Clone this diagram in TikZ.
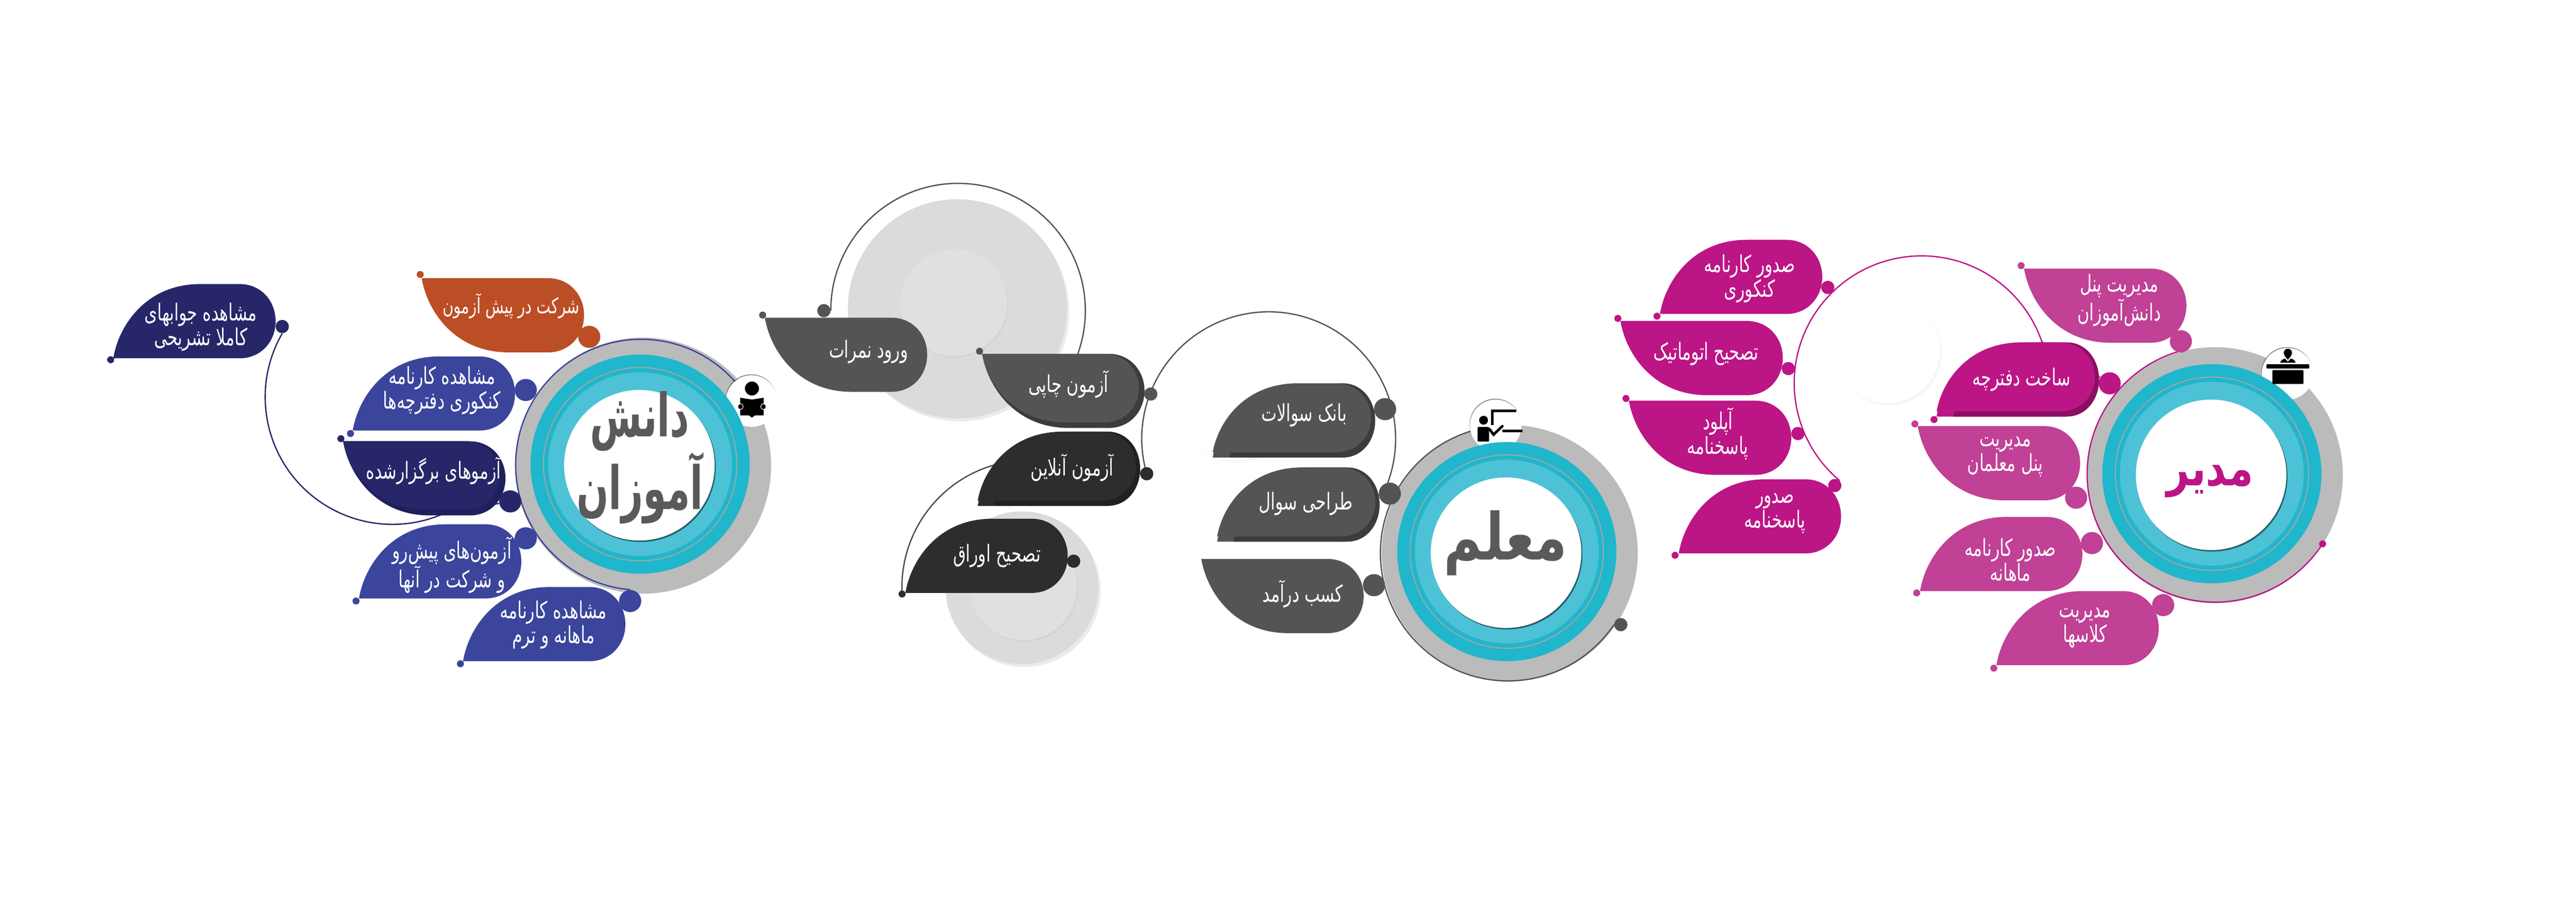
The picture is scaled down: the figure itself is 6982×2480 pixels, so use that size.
\documentclass[tikz,border=0pt]{standalone}
\usepackage{fontspec}
\usepackage{xcolor}
\usetikzlibrary{shadows}
\TeXXeTstate=1
\newfontfamily\farsi[Script=Arabic,FakeStretch=0.7]{DejaVu Sans}
\newfontfamily\farsitall[Script=Arabic,FakeStretch=0.63]{DejaVu Sans}
\newfontfamily\farsiword[Script=Arabic,FakeStretch=0.8]{DejaVu Sans}
\newcommand{\fa}[1]{\beginR #1\endR}

\definecolor{studentblue}{HTML}{3A459B}
\definecolor{studentnavy}{HTML}{262668}
\definecolor{navyback}{HTML}{1F1F5C}
\definecolor{studentorange}{HTML}{BC4E26}
\definecolor{teachergrey}{HTML}{545454}
\definecolor{greyback}{HTML}{3C3C3C}
\definecolor{teacherdark}{HTML}{2D2D2D}
\definecolor{darkback}{HTML}{212121}
\definecolor{adminmagenta}{HTML}{BC1586}
\definecolor{magentaback}{HTML}{8A0F62}
\definecolor{adminpink}{HTML}{C04196}
\definecolor{ringgrey}{HTML}{BBBBBB}
\definecolor{ringteal}{HTML}{20B6CC}
\definecolor{ringlight}{HTML}{4DC2D6}
\definecolor{ringline}{HTML}{A5A5A5}
\definecolor{hubword}{HTML}{5A5A5A}

\pgfdeclarelayer{back}
\pgfdeclarelayer{links}
\pgfdeclarelayer{hubs}
\pgfsetlayers{back,links,hubs,main}

\tikzset{
    petal/.pic={\fill[pic actions] (0,0) -- (343,0)
        .. controls (400,0) and (440,45) .. (440,100)
        .. controls (440,156) and (400,201) .. (343,201)
        -- (235,201) .. controls (90,201) and (15,90) .. cycle;},
    flipup/.style={yscale=-1},
    petaltext/.style={text=white, inner sep=0pt, align=center,
        font=\farsi\fontsize{18}{17.4}\selectfont},
    hubtext/.style={text=hubword, inner sep=0pt, align=center,
        font=\farsitall\bfseries\fontsize{46}{36.4}\selectfont},
    bigdot/.style={circle, inner sep=0pt, minimum size=6mm},
    middot/.style={circle, inner sep=0pt, minimum size=3.6mm},
    tinydot/.style={circle, inner sep=0pt, minimum size=1.9mm},
    decordisc/.style={circle, inner sep=0pt, fill=gray!28,
        drop shadow={shadow xshift=.6mm, shadow yshift=-.8mm, opacity=.08, fill=black}},
    decorcore/.style={circle, inner sep=0pt, fill=gray!24, minimum size=29mm,
        drop shadow={shadow xshift=.3mm, shadow yshift=-.4mm, opacity=.03, fill=black}},
    faintdisc/.style={circle, inner sep=0pt, fill=white, minimum size=28.6mm,
        drop shadow={shadow xshift=.5mm, shadow yshift=-.6mm, opacity=.035, fill=black}},
    iconbadge/.style={circle, fill=white, inner sep=0pt, minimum size=14mm,
        drop shadow={shadow xshift=-.1mm, shadow yshift=.25mm, opacity=.45, fill=black}},
    link/.style={line width=.35mm}
}

% one hub: grey ring, badge, teal rings, white middle
\newcommand{\hubrings}[5]{
    \begin{pgfonlayer}{back}
    \node[circle, fill=ringgrey, inner sep=0pt, minimum size=69.4mm] (#1Grey) at (#2+8,#3+4) {};
    \end{pgfonlayer}
    \begin{pgfonlayer}{hubs}
    \node[iconbadge] (#1Icon) at (#4,#5) {};
    \node[circle, fill=ringteal, inner sep=0pt, minimum size=59.4mm] (#1Teal) at (#2,#3) {};
    \node[circle, draw=ringline, line width=.3mm, inner sep=0pt, minimum size=52.4mm] (#1Line) at (#2,#3) {};
    \node[circle, fill=ringlight, inner sep=0pt, minimum size=49.8mm] (#1Light) at (#2,#3) {};
    \node[circle, fill=white, inner sep=0pt, minimum size=40.8mm,
        drop shadow={shadow xshift=.3mm, shadow yshift=-.4mm, opacity=.5, fill=black}] (#1White) at (#2-2,#3+3) {};
    \end{pgfonlayer}
}
% petal with a darker edge, corner at the bottom left
\newcommand{\raisedpetal}[4]{
    \pic[fill=#3, flipup] at (#1,#2) {petal};
    \pic[fill=#4, yscale=-1, xscale=.898] at (#1+45,#2) {petal};
    \pic[fill=#3, yscale=-.93, xscale=.975] at (#1,#2-14) {petal};
}
% petal with a darker edge, corner at the top left
\newcommand{\edgedpetal}[4]{
    \pic[fill=#4] at (#1,#2) {petal};
    \pic[fill=#3, xscale=.965, yscale=.925] at (#1,#2) {petal};
}

\begin{document}
\begin{tikzpicture}[x=.1mm, y=-.1mm]
\useasboundingbox (0,0) rectangle (6982,2480);

\begin{pgfonlayer}{back}
\fill[white] (0,0) rectangle (6982,2480);
% grey discs behind the teacher group
\node[decordisc, minimum size=59.4mm] (discTop) at (2595,837) {};
\node[decorcore] (discTopIn) at (2585,820) {};
\node[decordisc, minimum size=41.4mm] (discLow) at (2770,1593) {};
\node[decorcore] (discLowIn) at (2774,1590) {};
% white discs, only their shadow shows
\node[faintdisc] (discBank) at (3350,1105) {};
\node[faintdisc] (discAdmin) at (5115,950) {};
\end{pgfonlayer}

% hubs
\hubrings{student}{1735}{1258}{2037}{1087}
\hubrings{teacher}{4084}{1495}{4054}{1153}
\hubrings{admin}{5995}{1284}{6200}{1013}

\node[hubtext] (studentWord) at (1734,1240) {\fa{دانش}\\\fa{آموزان}};
\node[hubtext, font=\farsiword\bfseries\fontsize{50}{40}\selectfont] (teacherWord) at (4081,1472) {\fa{معلم}};
\node[hubtext, text=adminmagenta, font=\farsiword\bfseries\fontsize{38}{40}\selectfont] (adminWord) at (5990,1305) {\fa{مدیر}};

% student petals
\pic[fill=studentorange] at (1143,754) {petal};
\pic[fill=studentnavy, flipup] at (307,971) {petal};
\pic[fill=studentblue, flipup] at (956,1167) {petal};
\edgedpetal{930}{1196}{studentnavy}{navyback}
\pic[fill=studentblue, flipup] at (973,1622) {petal};
\pic[fill=studentblue, flipup] at (1255,1792) {petal};

\node[bigdot, fill=studentorange] (pishDot) at (1597,913) {};
\node[tinydot, fill=studentorange] (pishTip) at (1139,744) {};
\node[middot, fill=studentnavy] (javabDot) at (765,885) {};
\node[tinydot, fill=studentnavy] (javabTip) at (300,975) {};
\node[bigdot, fill=studentblue] (konkurDot) at (1425,1057) {};
\node[tinydot, fill=studentblue] (konkurTip) at (950,1175) {};
\node[bigdot, fill=studentnavy] (bargozarDot) at (1383,1359) {};
\node[tinydot, fill=studentnavy] (bargozarTip) at (924,1189) {};
\node[bigdot, fill=studentblue] (azmoonDot) at (1425,1459) {};
\node[tinydot, fill=studentblue] (azmoonTip) at (965,1629) {};
\node[bigdot, fill=studentblue] (mahaneDot) at (1708,1629) {};
\node[tinydot, fill=studentblue] (mahaneTip) at (1248,1799) {};

\node[petaltext, font=\farsi\fontsize{16.5}{17.4}\selectfont] (pishText) at (1385,829) {\fa{شرکت در پیش آزمون}};
\node[petaltext] (javabText) at (544,886) {\fa{مشاهده جوابهای}\\\fa{کاملا تشریحی}};
\node[petaltext] (konkurText) at (1198,1058) {\fa{مشاهده کارنامه}\\\fa{کنکوری دفترچه‌ها}};
\node[petaltext] (bargozarText) at (1175,1276) {\fa{آزموهای برگزارشده}};
\node[petaltext] (azmoonText) at (1225,1531) {\fa{آزمون‌های پیش‌رو}\\\fa{و شرکت در آنها}};
\node[petaltext] (mahaneText) at (1500,1694) {\fa{مشاهده کارنامه}\\\fa{ماهانه  و ترم}};

% teacher petals
\pic[fill=teachergrey] at (2073,861) {petal};
\edgedpetal{2662}{959}{teachergrey}{greyback}
\raisedpetal{2650}{1371}{teacherdark}{darkback}
\pic[fill=teacherdark, flipup] at (2454,1607) {petal};
\raisedpetal{3287}{1240}{teachergrey}{greyback}
\raisedpetal{3299}{1468}{teachergrey}{greyback}
\pic[fill=teachergrey] at (3256,1515) {petal};

\node[middot, fill=teachergrey] (nomratDot) at (2233,842) {};
\node[tinydot, fill=teachergrey] (nomratTip) at (2067,854) {};
\node[middot, fill=teachergrey] (chapiDot) at (3119,1068) {};
\node[tinydot, fill=teachergrey] (chapiTip) at (2655,952) {};
\node[middot, fill=teacherdark] (onlineDot) at (3108,1284) {};
\node[middot, fill=teacherdark] (oraqDot) at (2910,1521) {};
\node[tinydot, fill=teacherdark] (oraqTip) at (2445,1610) {};
\node[bigdot, fill=teachergrey] (bankDot) at (3754,1109) {};
\node[bigdot, fill=teachergrey] (tarahiDot) at (3767,1338) {};
\node[bigdot, fill=teachergrey] (kasbDot) at (3724,1586) {};
\node[middot, fill=teachergrey] (teacherDot) at (4393,1693) {};

\node[petaltext] (nomratText) at (2354,954) {\fa{ورود نمرات}};
\node[petaltext] (chapiText) at (2896,1042) {\fa{آزمون چاپی}};
\node[petaltext] (onlineText) at (2906,1268) {\fa{آزمون آنلاین}};
\node[petaltext] (oraqText) at (2702,1506) {\fa{تصحیح اوراق}};
\node[petaltext] (bankText) at (3535,1125) {\fa{بانک سوالات}};
\node[petaltext] (tarahiText) at (3539,1365) {\fa{طراحی سوال}};
\node[petaltext] (kasbText) at (3531,1610) {\fa{کسب درآمد}};

% admin petals
\pic[fill=adminpink] at (5486,728) {petal};
\raisedpetal{5249}{1129}{adminmagenta}{magentaback}
\pic[fill=adminpink] at (5198,1155) {petal};
\pic[fill=adminpink, flipup] at (5204,1602) {petal};
\pic[fill=adminpink, flipup] at (5411,1803) {petal};
\pic[fill=adminmagenta, flipup] at (4499,851) {petal};
\pic[fill=adminmagenta] at (4392,870) {petal};
\pic[fill=adminmagenta] at (4415,1086) {petal};
\pic[fill=adminmagenta, flipup] at (4550,1500) {petal};

\node[bigdot, fill=adminpink] (panelDot) at (5911,925) {};
\node[tinydot, fill=adminpink] (panelTip) at (5478,720) {};
\node[bigdot, fill=adminmagenta] (daftarDot) at (5718,1039) {};
\node[tinydot, fill=adminmagenta] (daftarTip) at (5242,1137) {};
\node[bigdot, fill=adminpink] (moalemDot) at (5627,1349) {};
\node[tinydot, fill=adminpink] (moalemTip) at (5190,1149) {};
\node[bigdot, fill=adminpink] (sodurDot) at (5670,1472) {};
\node[tinydot, fill=adminpink] (sodurTip) at (5195,1607) {};
\node[bigdot, fill=adminpink] (kelasDot) at (5863,1640) {};
\node[tinydot, fill=adminpink] (kelasTip) at (5404,1811) {};
\node[middot, fill=adminmagenta] (sanjeshDot) at (4954,779) {};
\node[tinydot, fill=adminmagenta] (sanjeshTip) at (4491,857) {};
\node[middot, fill=adminmagenta] (autoDot) at (4847,999) {};
\node[tinydot, fill=adminmagenta] (autoTip) at (4385,863) {};
\node[middot, fill=adminmagenta] (uploadDot) at (4873,1175) {};
\node[tinydot, fill=adminmagenta] (uploadTip) at (4407,1080) {};
\node[middot, fill=adminmagenta] (pasokhDot) at (4973,1316) {};
\node[tinydot, fill=adminmagenta] (pasokhTip) at (4540,1505) {};
\node[tinydot, fill=adminmagenta] (adminTip) at (6295,1474) {};

\node[petaltext] (panelText) at (5744,814) {\fa{مدیریت پنل}\\\fa{دانش‌آموزان}};
\node[petaltext] (daftarText) at (5479,1029) {\fa{ساخت دفترچه}};
\node[petaltext] (moalemText) at (5435,1238) {\fa{مدیریت}\\\fa{پنل معلمان}};
\node[petaltext] (sodurText) at (5449,1518) {\fa{صدور کارنامه}\\\fa{ماهانه}};
\node[petaltext] (kelasText) at (5651,1701) {\fa{مدیریت}\\\fa{کلاسها}};
\node[petaltext] (sanjeshText) at (4742,755) {\fa{صدور کارنامه}\\\fa{کنکوری}};
\node[petaltext] (autoText) at (4624,959) {\fa{تصحیح اتوماتیک}};
\node[petaltext] (uploadText) at (4656,1176) {\fa{آپلود}\\\fa{پاسخنامه}};
\node[petaltext] (pasokhText) at (4811,1392) {\fa{صدور}\\\fa{پاسخنامه}};

% links
\begin{pgfonlayer}{links}
\draw[link, studentblue] (mahaneDot.north) arc[start angle=95, end angle=330, radius=340] -- (studentIcon);
\draw[link, studentnavy] (javabDot.south) arc[start angle=210, end angle=66, radius=345] -- (bargozarDot);
\draw[link, teachergrey] (nomratDot.east) arc[start angle=180, end angle=380, radius=345] -- (chapiDot);
\draw[link, teacherdark!85] (oraqTip) arc[start angle=177, end angle=256, radius=345] -- (onlineDot);
\draw[link, teachergrey] (onlineDot) arc[start angle=164, end angle=386, radius=344] -- (tarahiDot);
\draw[link, teachergrey] (teacherDot.west) arc[start angle=34, end angle=262, radius=346] -- (teacherIcon);
\draw[link, adminmagenta] (pasokhDot.45) arc[start angle=130, end angle=341, radius=345] -- (daftarDot);
\draw[link, adminmagenta] (adminTip) arc[start angle=33, end angle=255, radius=347] -- (panelDot);
\end{pgfonlayer}

% reader icon
\fill[black] (2038,1053) circle[radius=19];
\fill[black] (2006,1078) -- (2038,1083) -- (2070,1078) -- (2070,1126) -- (2046,1126) -- (2038,1132) -- (2030,1126) -- (2006,1126) -- cycle;
\filldraw[black, draw=white, line width=.15mm] (2007,1102) ellipse[x radius=7, y radius=8];
\filldraw[black, draw=white, line width=.15mm] (2069,1102) ellipse[x radius=7, y radius=8];
% teacher icon
\fill[black] (4021,1139) circle[radius=12];
\fill[black, rounded corners=.2mm] (4005,1157) rectangle (4036,1197);
\draw[black, line width=.7mm, line cap=round] (4037,1163) -- (4048,1178) -- (4072,1155);
\draw[black, line width=.7mm] (4045,1152) -- (4045,1113) -- (4110,1113);
\draw[black, line width=.7mm] (4072,1168) -- (4126,1168);
% desk icon
\fill[black] (6180,983) .. controls (6182,975) and (6190,973) .. (6193,972) -- (6201,980) -- (6209,972) .. controls (6214,973) and (6220,975) .. (6222,983) -- cycle;
\fill[black] (6201,975) .. controls (6192,966) and (6189,958) .. (6190,955) .. controls (6191,942) and (6211,942) .. (6212,955) .. controls (6213,958) and (6210,966) .. cycle;
\fill[black, rounded corners=.3mm] (6143,987) rectangle (6259,999);
\fill[black, rounded corners=.2mm] (6159,1003) rectangle (6243,1041);

\end{tikzpicture}
\end{document}
